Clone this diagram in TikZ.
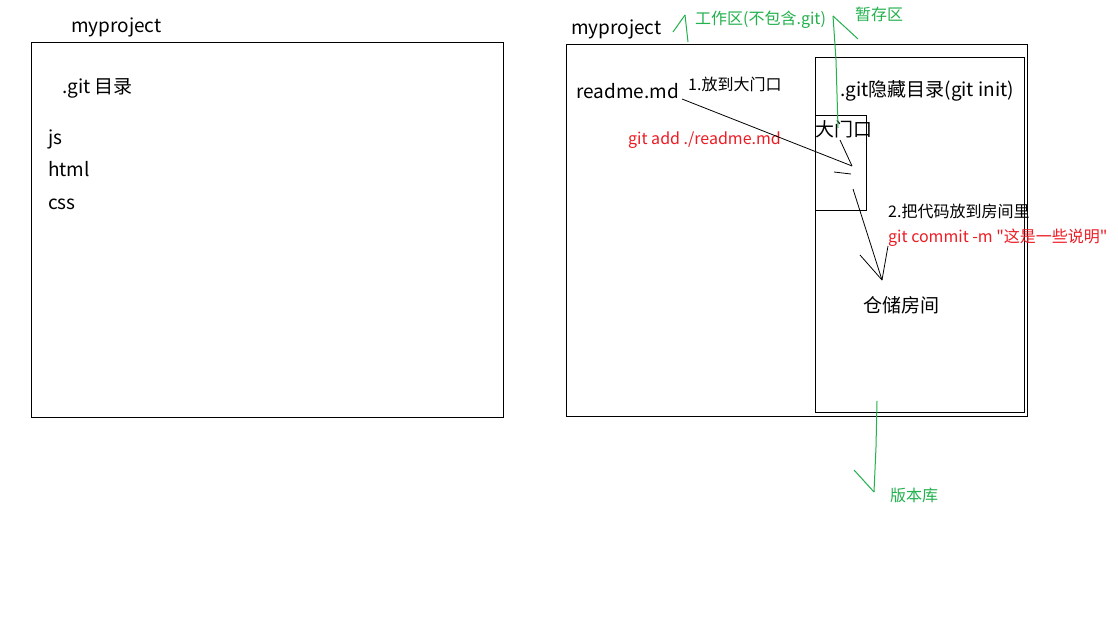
\documentclass[tikz,border=0pt]{standalone}
\usepackage{fontspec}
\setmainfont{Noto Sans CJK SC}[Ligatures=TeXOff]
\definecolor{pgreen}{RGB}{34,177,76}
\definecolor{pred}{RGB}{237,28,36}
\begin{document}
\begin{tikzpicture}[x=1pt,y=-1pt,
  big/.style={font=\fontsize{19}{21}\selectfont, inner sep=0pt, anchor=base west},
  small/.style={font=\fontsize{16}{18}\selectfont, inner sep=0pt, anchor=base west},
  boxline/.style={draw=black, line width=1pt},
  thin/.style={line width=0.8pt},
  gline/.style={draw=pgreen, line width=1pt}]
\useasboundingbox[fill=white] (0,0) rectangle (1118,636);
% left project
\draw[boxline] (31,43) rectangle (503,417);
\node[big] (lproj) at (71,33) {myproject};
\node[big] (lgit) at (62,94) {.git 目录};
\node[big] (js) at (48,145) {js};
\node[big] (html) at (48,177) {html};
\node[big] (css) at (48,210) {css};
% right project
\draw[boxline] (566,45) rectangle (1027,416);
\draw[boxline] (815,58) rectangle (1024,412);
\draw[boxline] (815,116) rectangle (866,211);
\node[big] (rproj) at (571,35) {myproject};
\node[big] (readme) at (576,99) {readme.md};
\node[small] (step1) at (688,91) {1.放到大门口};
\node[small, text=pred] (gitadd) at (628,145) {git add ./readme.md};
\node[big] (gitdir) at (840,97) {.git隐藏目录(git init)};
\node[big] (gate) at (815,137) {大门口};
\node[small] (step2) at (888,218) {2.把代码放到房间里};
\node[small, text=pred] (commit) at (888,243) {git commit -m "这是一些说明"};
\node[big] (room) at (863,312) {仓储房间};
\node[small, text=pgreen] (work) at (695,25) {工作区(不包含.git)};
\node[small, text=pgreen] (stage) at (855,21) {暂存区};
\node[small, text=pgreen] (repo) at (890,501) {版本库};
% black arrow 1
\coordinate (a1s) at (682,99);
\coordinate (a1e) at (852,166);
\coordinate (a1h) at (840,140);
\draw[thin] (a1s) -- (a1e);
\draw[thin] (a1h) -- (a1e);
\coordinate (d1) at (834,172);
\coordinate (d2) at (851,174);
\draw[thin] (d1) -- (d2);
% black arrow 2
\coordinate (a2s) at (853,189);
\coordinate (a2e) at (882,280);
\coordinate (a2h1) at (860,255);
\coordinate (a2h2) at (888,246);
\draw[thin] (a2s) -- (a2e);
\draw[thin] (a2h1) -- (a2e);
\draw[thin] (a2h2) -- (a2e);
% green marks
\coordinate (w1) at (673,32);
\coordinate (w2) at (685,15);
\coordinate (w3) at (688,42);
\draw[gline] (w1) -- (w2);
\draw[gline] (w2) -- (w3);
\coordinate (s1) at (833,16);
\coordinate (s2) at (836,60);
\coordinate (s3) at (838,128);
\coordinate (s4) at (858,39);
\draw[gline] (s1) -- (s2) -- (s3);
\draw[gline] (s1) -- (s4);
\coordinate (r1) at (877,401);
\coordinate (r2) at (876,447);
\coordinate (r3) at (874,492);
\coordinate (r4) at (854,470);
\draw[gline] (r1) -- (r2) -- (r3);
\draw[gline] (r4) -- (r3);
\end{tikzpicture}
\end{document}
